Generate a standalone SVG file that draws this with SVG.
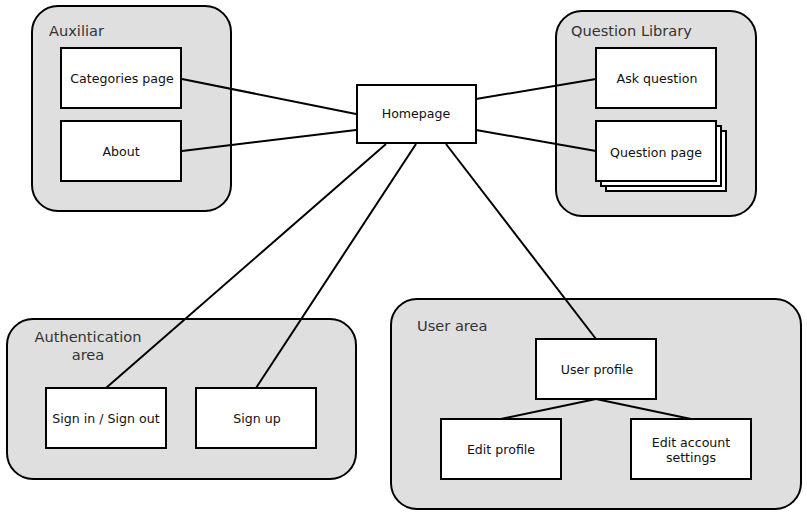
<svg xmlns="http://www.w3.org/2000/svg" width="807" height="516" viewBox="0 0 807 516">
<style>
.grp{fill:#dfdfdf;stroke:#000;stroke-width:2}
.box{fill:#fff;stroke:#000;stroke-width:2}
.gl{font-family:"DejaVu Sans",Verdana,sans-serif;font-size:14.6px;fill:#333}
.nl{font-family:"DejaVu Sans",Verdana,sans-serif;font-size:12.6px;fill:#111;text-anchor:middle}
.c{stroke:#000;stroke-width:2;fill:none}
</style>
<rect width="807" height="516" fill="#fff"/>
<g id="grp-auxiliar">
<rect class="grp" x="32" y="6" width="199" height="205" rx="26"/>
<text class="gl" x="49" y="36">Auxiliar</text>
</g>
<g id="grp-question-library">
<rect class="grp" x="556" y="11" width="200" height="205" rx="26"/>
<text class="gl" x="571" y="36">Question Library</text>
</g>
<g id="grp-auth">
<rect class="grp" x="7" y="319" width="349" height="160" rx="26"/>
<text class="gl" x="88" y="342" text-anchor="middle">Authentication</text>
<text class="gl" x="88" y="360" text-anchor="middle">area</text>
</g>
<g id="grp-user">
<rect class="grp" x="391" y="299" width="410" height="210" rx="26"/>
<text class="gl" x="417" y="331">User area</text>
</g>
<g id="connectors">
<line class="c" x1="182" y1="79" x2="356" y2="114"/>
<line class="c" x1="182" y1="151" x2="356" y2="130"/>
<line class="c" x1="476" y1="99" x2="596" y2="79"/>
<line class="c" x1="476" y1="130" x2="596" y2="151"/>
<line class="c" x1="386" y1="144" x2="106" y2="388"/>
<line class="c" x1="416" y1="144" x2="256" y2="388"/>
<line class="c" x1="446" y1="144" x2="596" y2="339"/>
<line class="c" x1="596" y1="399" x2="501" y2="419"/>
<line class="c" x1="596" y1="399" x2="691" y2="419"/>
</g>
<g id="node-categories">
<rect class="box" x="61" y="48" width="120" height="60"/>
<text class="nl" x="122" y="83">Categories page</text>
</g>
<g id="node-about">
<rect class="box" x="61" y="121" width="120" height="60"/>
<text class="nl" x="121" y="156">About</text>
</g>
<g id="node-homepage">
<rect class="box" x="357" y="85" width="119" height="58" stroke-width="3"/>
<text class="nl" x="416" y="118">Homepage</text>
</g>
<g id="node-ask">
<rect class="box" x="596" y="48" width="120" height="60"/>
<text class="nl" x="657" y="83">Ask question</text>
</g>
<g id="node-question-page">
<rect class="box" x="606" y="131" width="120" height="60"/>
<rect class="box" x="601" y="126" width="120" height="60"/>
<rect class="box" x="596" y="121" width="120" height="60"/>
<text class="nl" x="656" y="157">Question page</text>
</g>
<g id="node-signin">
<rect class="box" x="46" y="388" width="120" height="60"/>
<text class="nl" x="106" y="423">Sign in / Sign out</text>
</g>
<g id="node-signup">
<rect class="box" x="196" y="388" width="120" height="60"/>
<text class="nl" x="257" y="423">Sign up</text>
</g>
<g id="node-user-profile">
<rect class="box" x="536" y="339" width="120" height="60"/>
<text class="nl" x="597" y="374">User profile</text>
</g>
<g id="node-edit-profile">
<rect class="box" x="441" y="419" width="120" height="60"/>
<text class="nl" x="501" y="454">Edit profile</text>
</g>
<g id="node-edit-account">
<rect class="box" x="631" y="419" width="120" height="60"/>
<text class="nl" x="691" y="447">Edit account</text>
<text class="nl" x="691" y="462">settings</text>
</g>
</svg>
